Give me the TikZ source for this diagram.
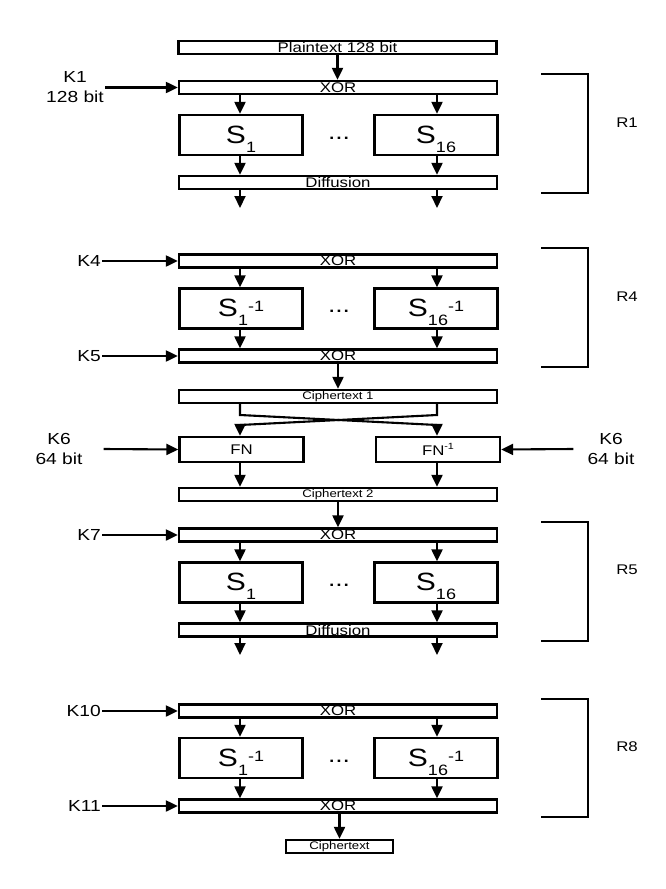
\documentclass[tikz,border=0pt]{standalone}
\usepackage{fontspec}
\setmainfont{Liberation Sans}[FakeStretch=1.2]
\usetikzlibrary{arrows.meta,positioning}
\newcommand{\lowpart}[1]{\raisebox{-9pt}{\fontsize{15}{15}\selectfont #1}}
\newcommand{\highpart}[1]{\raisebox{5pt}{\fontsize{15}{15}\selectfont #1}}
\newcommand{\fnsup}[1]{\raisebox{6pt}{\fontsize{9}{9}\selectfont #1}}
\tikzset{
  bar/.style={draw,line width=2.3pt,inner sep=0pt,minimum width=318pt,
    minimum height=13pt,font=\fontsize{14}{14}\selectfont},
  smallbar/.style={bar,font=\fontsize{11}{11}\selectfont},
  sbox/.style={draw,line width=2.3pt,inner sep=0pt,minimum width=123pt,
    minimum height=40pt,text height=18pt,text depth=2pt,
    font=\fontsize{25}{25}\selectfont},
  fnbox/.style={draw,line width=2.3pt,inner sep=0pt,minimum width=124pt,
    minimum height=25pt,font=\fontsize{14}{14}\selectfont},
  flow/.style={line width=2.1pt,-{Triangle[length=12pt,width=11pt]}},
  keylabel/.style={font=\fontsize{16}{20}\selectfont,align=center,inner sep=1pt},
  bracket/.style={line width=2.3pt},
  roundlabel/.style={font=\fontsize{14}{14}\selectfont},
  dots/.style={font=\fontsize{22}{22}\selectfont,inner sep=0pt}
}
\begin{document}
\begin{tikzpicture}[x=1pt,y=-1pt]
  \useasboundingbox (0,0) rectangle (665,889);
  % columns of the two sbox lanes
  \coordinate (cl) at (240,415);
  \coordinate (cr) at (437,415);
  \coordinate (bl) at (240,425);
  \coordinate (br) at (437,425);

  \node[bar] (plain) at (337.5,47.5) {Plaintext 128 bit};

  % round 1
  \node[bar] (x1) at (338,87.5) {XOR};
  \node[sbox] (sa1) at (241,135) {S\lowpart{1}};
  \node[sbox] (sb1) at (436,135) {S\lowpart{16}};
  \node[dots] (dt1) at (339,138) {...};
  \node[bar] (d1) at (338,182.5) {Diffusion};
  \coordinate (oa1) at (240,208);
  \coordinate (ob1) at (437,208);
  \node[keylabel] (k1) at (75,87.5) {K1\\128 bit};
  \draw[flow] (plain.south) -- (plain.south |- x1.north);
  \draw[flow] (k1.east |- x1) -- (x1.west);
  \draw[flow] (x1.south -| cl) -- (sa1.north -| cl);
  \draw[flow] (x1.south -| cr) -- (sb1.north -| cr);
  \draw[flow] (sa1.south -| cl) -- (d1.north -| cl);
  \draw[flow] (sb1.south -| cr) -- (d1.north -| cr);
  \draw[flow] (d1.south -| oa1) -- (oa1);
  \draw[flow] (d1.south -| ob1) -- (ob1);
  \draw[bracket] (541,74) -- (588,74) -- (588,193) -- (541,193);
  \node[roundlabel] (r1) at (627,123) {R1};

  % round 4
  \node[bar] (x4) at (338,261) {XOR};
  \node[sbox] (sa4) at (241,308.5) {S\lowpart{1}\highpart{-1}};
  \node[sbox] (sb4) at (436,308.5) {S\lowpart{16}\highpart{-1}};
  \node[dots] (dt4) at (339,311.5) {...};
  \node[bar] (x5) at (338,356) {XOR};
  \node[keylabel,anchor=east] (k4) at (102,261) {K4};
  \node[keylabel,anchor=east] (k5) at (102,356) {K5};
  \draw[flow] (k4.east) -- (x4.west);
  \draw[flow] (k5.east) -- (x5.west);
  \draw[flow] (x4.south -| cl) -- (sa4.north -| cl);
  \draw[flow] (x4.south -| cr) -- (sb4.north -| cr);
  \draw[flow] (sa4.south -| cl) -- (x5.north -| cl);
  \draw[flow] (sb4.south -| cr) -- (x5.north -| cr);
  \draw[bracket] (541,248) -- (588,248) -- (588,367) -- (541,367);
  \node[roundlabel] (r4) at (627,297) {R4};

  % FN stage
  \node[smallbar] (c1) at (338,396.5) {Ciphertext 1};
  \draw[flow] (x5.south) -- (c1.north);
  \node[fnbox] (fn) at (241.5,449.5) {FN};
  \node[fnbox] (fninv) at (438,449.5) {FN\fnsup{-1}};
  \node[keylabel] (k6l) at (59,449) {K6\\64 bit};
  \node[keylabel] (k6r) at (611,449) {K6\\64 bit};
  \draw[flow] (c1.south -| cl) -- (cl) -- (br) -- (fninv.north -| br);
  \draw[flow] (c1.south -| cr) -- (cr) -- (bl) -- (fn.north -| bl);
  \draw[flow] ([xshift=20pt]k6l.east) -- (fn.west);
  \draw[flow] ([xshift=-13pt]k6r.west) -- (fninv.east);
  \node[smallbar] (c2) at (338,494.5) {Ciphertext 2};
  \draw[flow] (fn.south -| cl) -- (c2.north -| cl);
  \draw[flow] (fninv.south -| cr) -- (c2.north -| cr);

  % round 5
  \node[bar] (x7) at (338,535) {XOR};
  \node[sbox] (sa7) at (241,582.5) {S\lowpart{1}};
  \node[sbox] (sb7) at (436,582.5) {S\lowpart{16}};
  \node[dots] (dt7) at (339,585.5) {...};
  \node[bar] (d7) at (338,630) {Diffusion};
  \coordinate (oa7) at (240,655);
  \coordinate (ob7) at (437,655);
  \node[keylabel,anchor=east] (k7) at (102,535) {K7};
  \draw[flow] (c2.south) -- (x7.north);
  \draw[flow] (k7.east) -- (x7.west);
  \draw[flow] (x7.south -| cl) -- (sa7.north -| cl);
  \draw[flow] (x7.south -| cr) -- (sb7.north -| cr);
  \draw[flow] (sa7.south -| cl) -- (d7.north -| cl);
  \draw[flow] (sb7.south -| cr) -- (d7.north -| cr);
  \draw[flow] (d7.south -| oa7) -- (oa7);
  \draw[flow] (d7.south -| ob7) -- (ob7);
  \draw[bracket] (541,522) -- (588,522) -- (588,641) -- (541,641);
  \node[roundlabel] (r5) at (627,570) {R5};

  % round 8
  \node[bar] (x10) at (338,711) {XOR};
  \node[sbox] (sa10) at (241,758) {S\lowpart{1}\highpart{-1}};
  \node[sbox] (sb10) at (436,758) {S\lowpart{16}\highpart{-1}};
  \node[dots] (dt10) at (339,761) {...};
  \node[bar] (x11) at (338,806) {XOR};
  \node[keylabel,anchor=east] (k10) at (102,711) {K10};
  \node[keylabel,anchor=east] (k11) at (102,806) {K11};
  \draw[flow] (k10.east) -- (x10.west);
  \draw[flow] (k11.east) -- (x11.west);
  \draw[flow] (x10.south -| cl) -- (sa10.north -| cl);
  \draw[flow] (x10.south -| cr) -- (sb10.north -| cr);
  \draw[flow] (sa10.south -| cl) -- (x11.north -| cl);
  \draw[flow] (sb10.south -| cr) -- (x11.north -| cr);
  \draw[bracket] (541,699) -- (588,699) -- (588,817) -- (541,817);
  \node[roundlabel] (r8) at (627,747) {R8};

  \node[smallbar,minimum width=107pt] (ct) at (339.5,846.5) {Ciphertext};
  \draw[flow] (x11.south -| ct) -- (ct.north);
\end{tikzpicture}
\end{document}
